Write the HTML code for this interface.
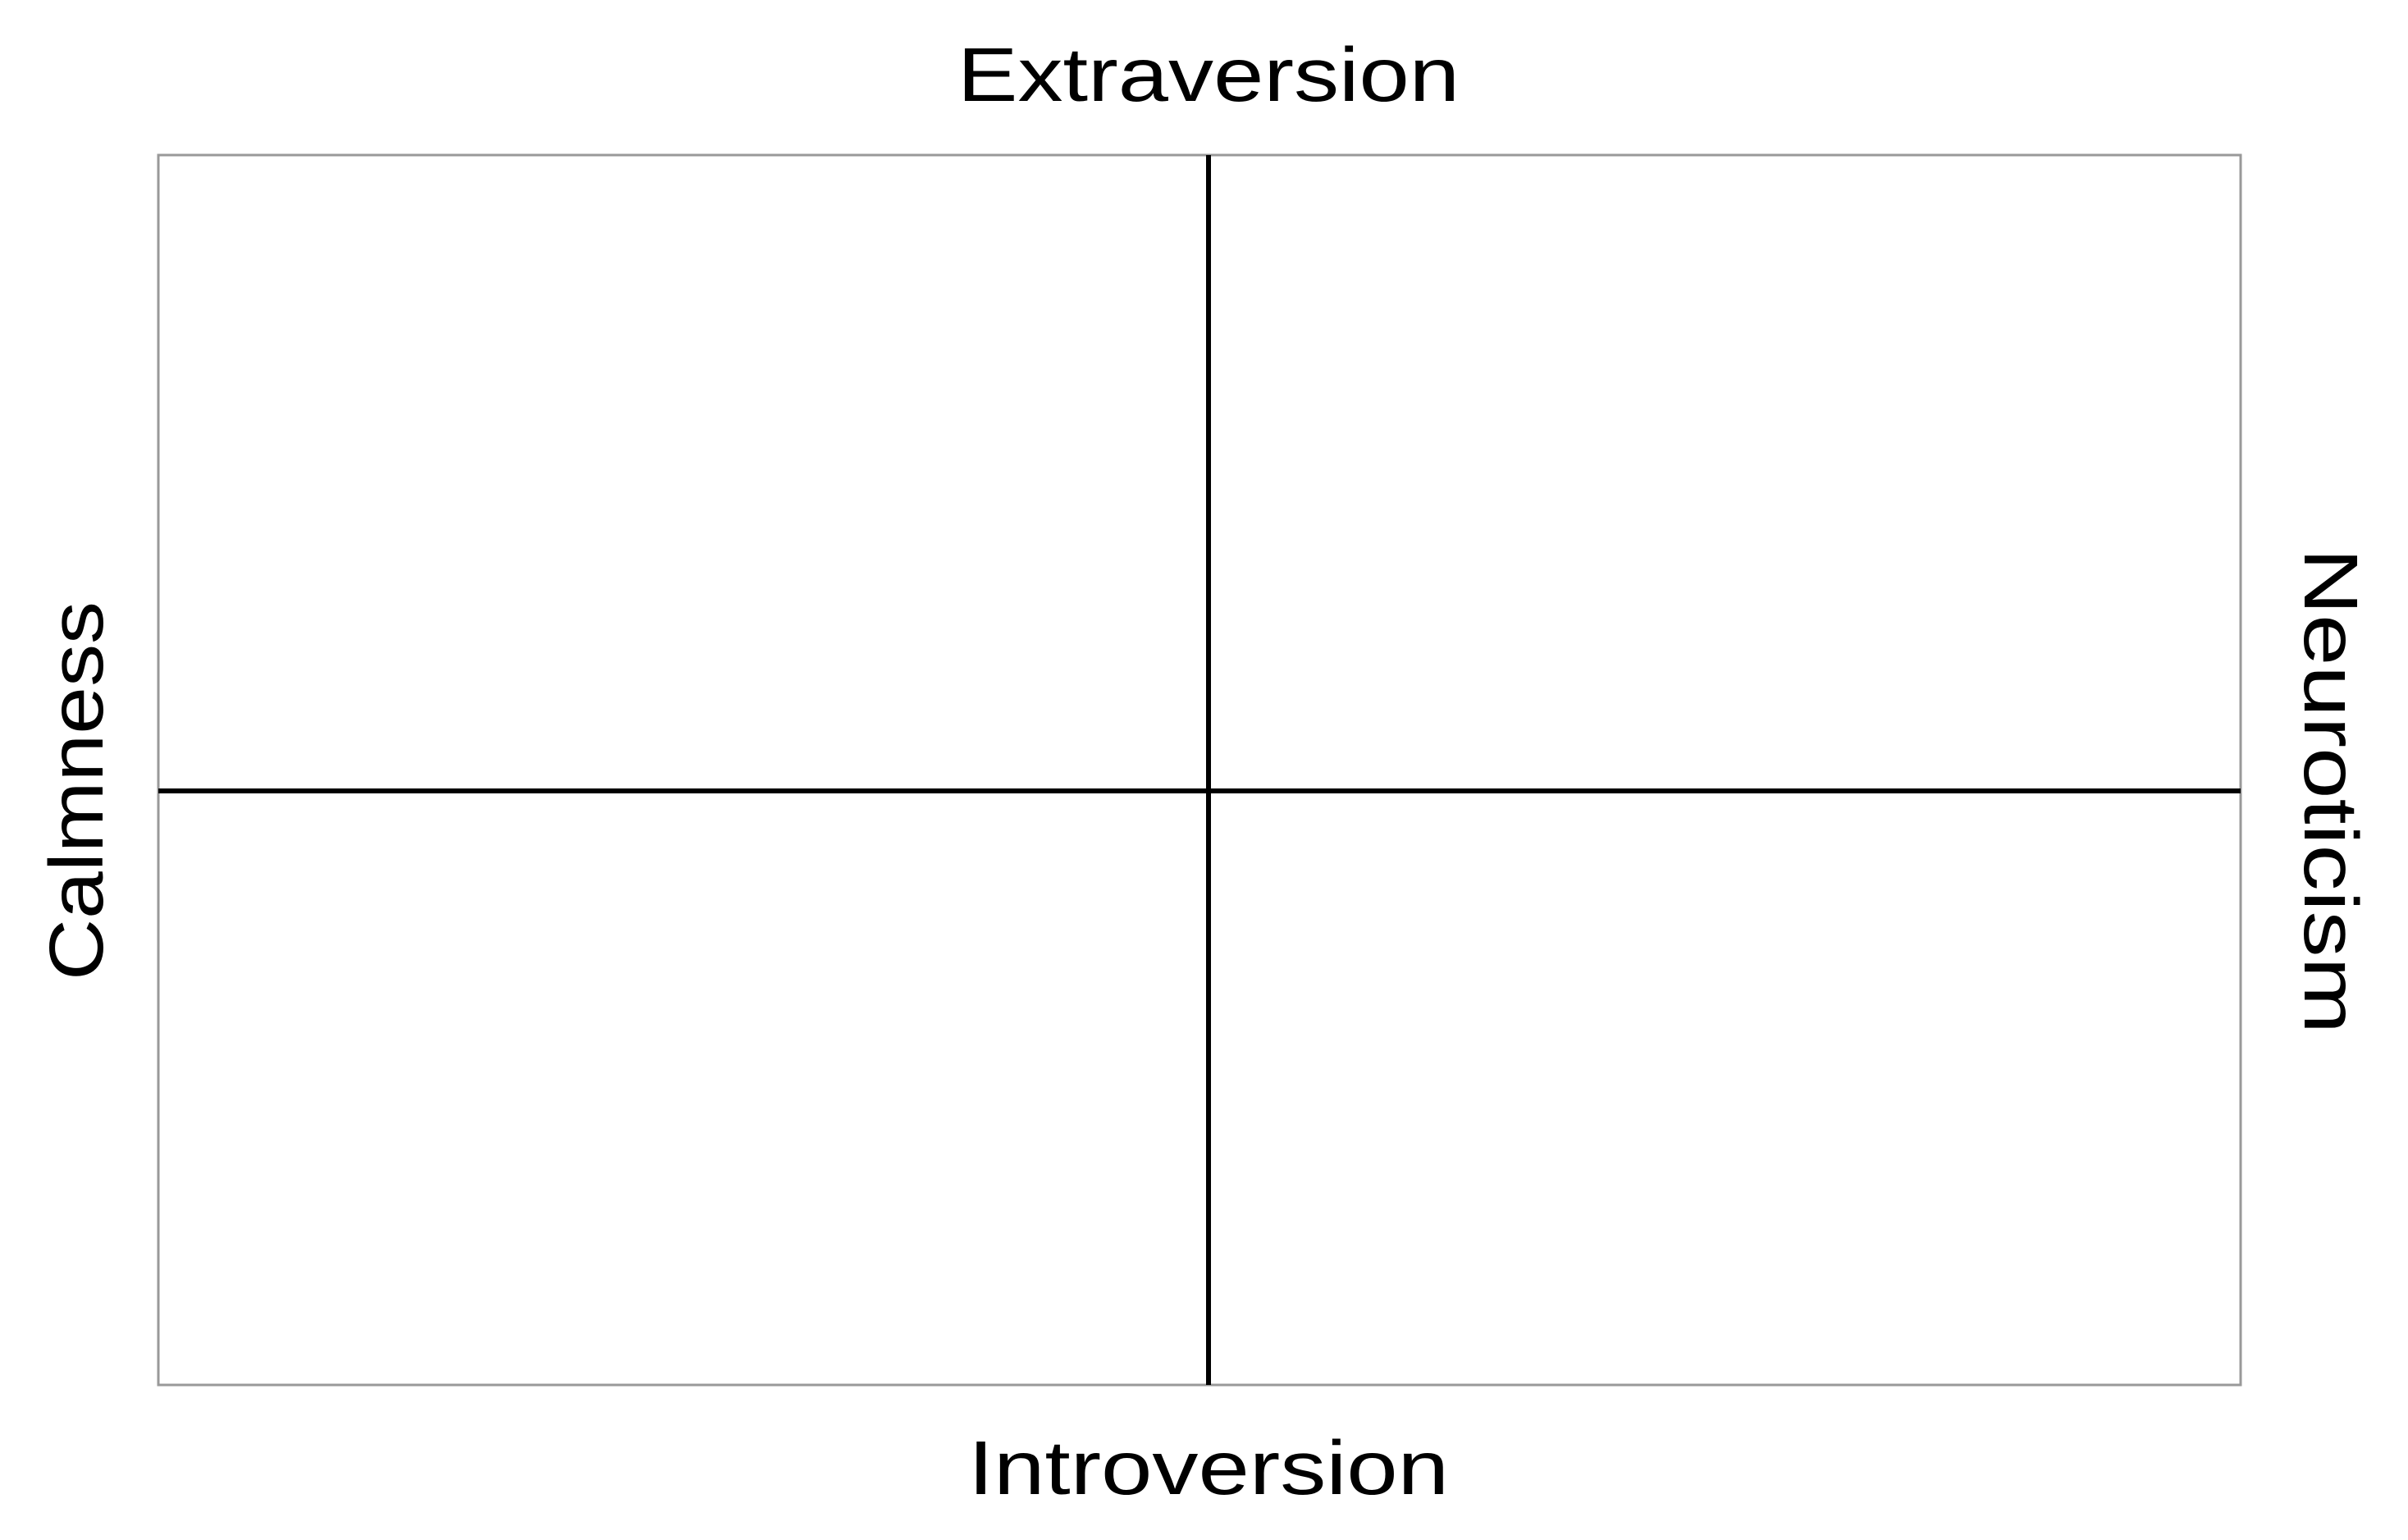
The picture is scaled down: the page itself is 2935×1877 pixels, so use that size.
<!DOCTYPE html>
<html><head><meta charset="utf-8"><style>
html,body{margin:0;padding:0;background:#fff;}
svg{display:block;}
text{font-family:"Liberation Sans",sans-serif;fill:#000;}
</style></head><body>
<svg width="2935" height="1877" viewBox="0 0 2935 1877">
<rect x="193" y="189" width="2538" height="1499" fill="#fff" stroke="#999" stroke-width="3"/>
<line x1="1473" y1="189" x2="1473" y2="1688" stroke="#000" stroke-width="6"/>
<line x1="193" y1="964" x2="2731" y2="964" stroke="#000" stroke-width="6"/>
<text x="1473" y="123" font-size="93" text-anchor="middle" textLength="612" lengthAdjust="spacingAndGlyphs">Extraversion</text>
<text x="1473" y="1821" font-size="93" text-anchor="middle" textLength="586" lengthAdjust="spacingAndGlyphs">Introversion</text>
<text transform="translate(125,964) rotate(-90)" x="0" y="0" font-size="93" text-anchor="middle" textLength="462" lengthAdjust="spacingAndGlyphs">Calmness</text>
<text transform="translate(2809,964) rotate(90)" x="0" y="0" font-size="93" text-anchor="middle" textLength="592" lengthAdjust="spacingAndGlyphs">Neuroticism</text>
</svg>
</body></html>
